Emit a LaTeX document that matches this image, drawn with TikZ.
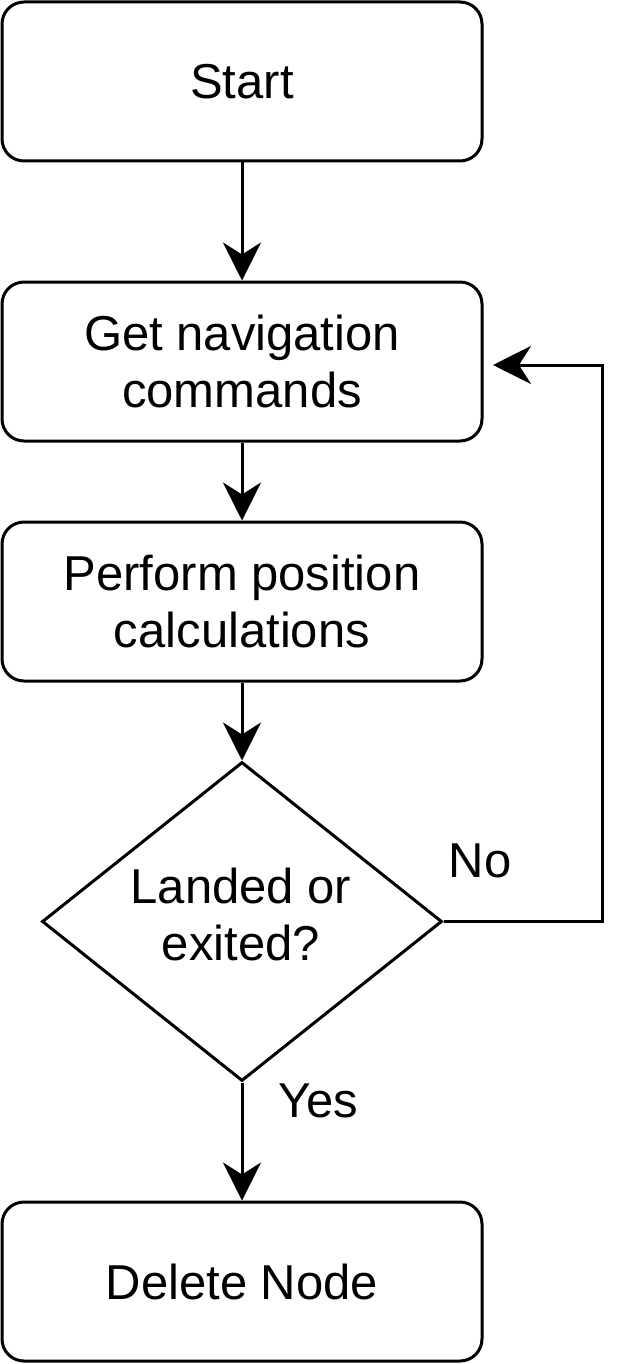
\documentclass[tikz,border=0pt]{standalone}
\usepackage{fontspec}
\setmainfont{Liberation Sans}
\usetikzlibrary{shapes.geometric,arrows.meta}
\begin{document}
\begin{tikzpicture}[x=1pt,y=-1pt,
  box/.style={draw,line width=3pt,rounded corners=22pt,minimum width=480pt,minimum height=159pt,inner sep=0pt,align=center,font=\fontsize{49}{57}\selectfont},
  dia/.style={draw,line width=3pt,diamond,minimum width=400pt,minimum height=319pt,inner sep=0pt},
  lbl/.style={align=center,font=\fontsize{49}{57}\selectfont},
  arr/.style={line width=3pt,-{Stealth[length=38pt,width=38pt,inset=12pt]}}]
\useasboundingbox (0,0) rectangle (636,1364);
\node[box] (start) at (242,81.5) {Start};
\node[box] (get) at (242,361.5) {Get navigation\\commands};
\node[box] (perf) at (242,601.5) {Perform position\\calculations};
\node[dia] (dec) at (242,921.5) {};
\node[lbl] (dect) at (241,914) {Landed or\\exited?};
\node[box] (del) at (242,1281.5) {Delete Node};
\node[lbl] (no) at (480,861) {No};
\node[lbl] (yes) at (318,1101) {Yes};
\coordinate (c1) at (602,921.5);
\coordinate (c2) at (602,365);
\coordinate (tip) at (493,365);
\draw[arr] (start.south) -- (get.north);
\draw[arr] (get.south) -- (perf.north);
\draw[arr] (perf.south) -- (dec.north);
\draw[arr] (dec.south) -- (del.north);
\draw[arr] (dec.east) -- (c1) -- (c2) -- (tip);
\end{tikzpicture}
\end{document}
